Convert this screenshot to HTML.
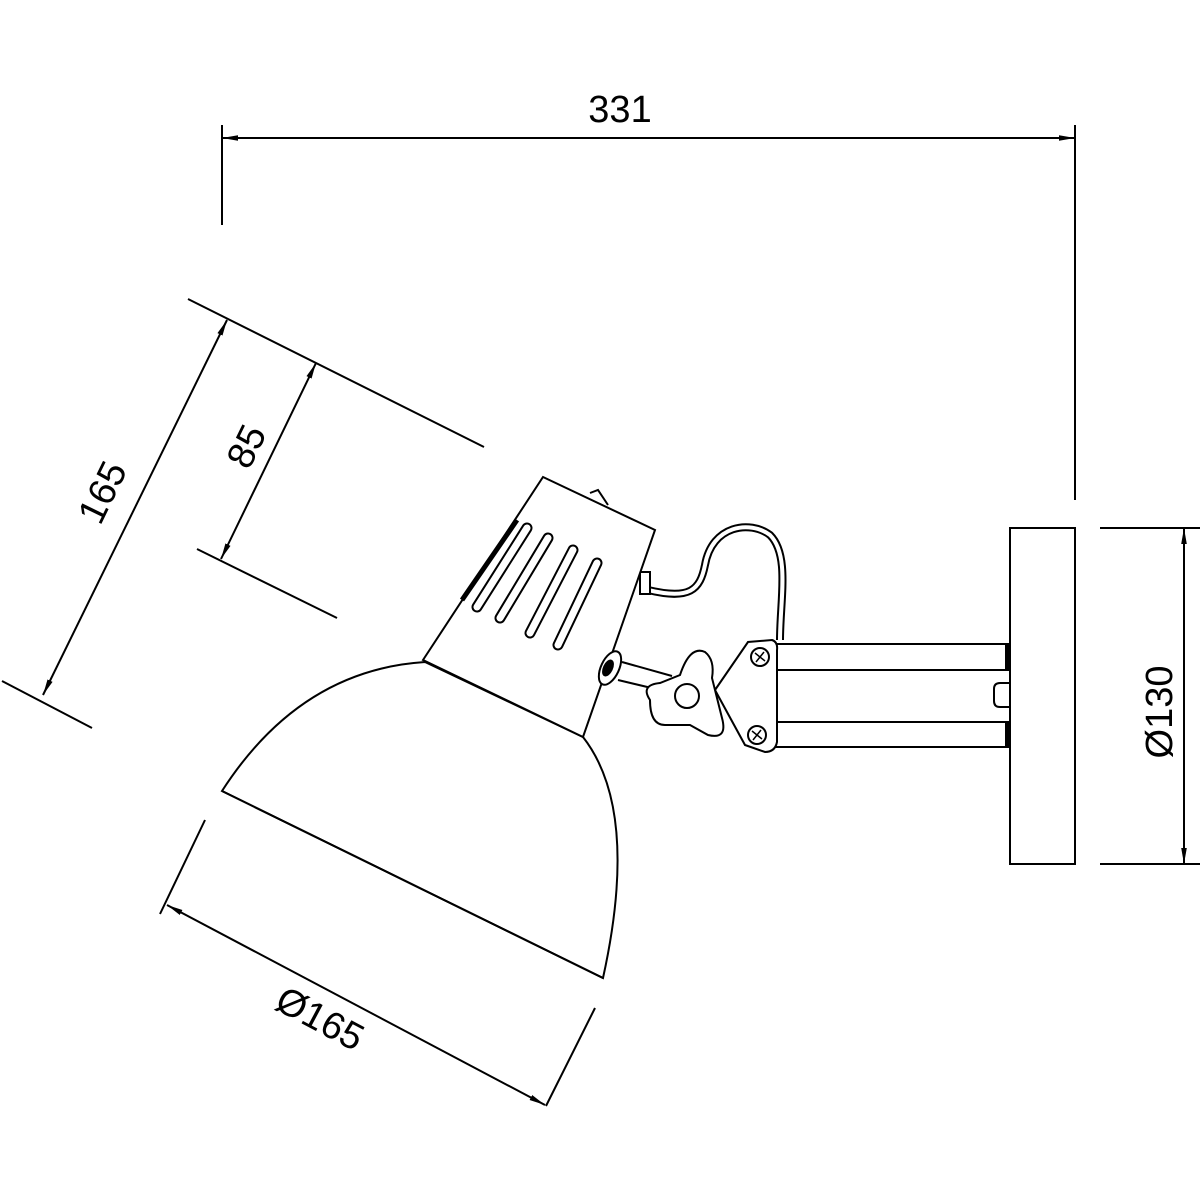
<!DOCTYPE html>
<html><head><meta charset="utf-8"><style>html,body{margin:0;padding:0;background:#fff}svg{display:block}</style></head>
<body>
<svg width="1200" height="1200" viewBox="0 0 1200 1200" xmlns="http://www.w3.org/2000/svg">
<defs>
<marker id="a" viewBox="0 0 10 10" refX="10" refY="5" markerWidth="16" markerHeight="7" orient="auto-start-reverse" markerUnits="userSpaceOnUse" preserveAspectRatio="none"><path d="M0,1 L10,5 L0,9 z" fill="#000"/></marker>
</defs>
<g fill="none" stroke="#000" stroke-width="2">
<!-- 331 -->
<line x1="222" y1="125" x2="222" y2="225"/>
<line x1="1075" y1="125" x2="1075" y2="500"/>
<line x1="222" y1="138" x2="1075" y2="138" marker-start="url(#a)" marker-end="url(#a)"/>
<!-- 130 -->
<line x1="1100" y1="528" x2="1200" y2="528"/>
<line x1="1100" y1="864" x2="1200" y2="864"/>
<line x1="1184" y1="528" x2="1184" y2="864" marker-start="url(#a)" marker-end="url(#a)"/>
<!-- left dims -->
<line x1="188" y1="299" x2="484" y2="447"/>
<line x1="197" y1="549" x2="337" y2="618"/>
<line x1="2" y1="681" x2="92" y2="728"/>
<line x1="227" y1="320" x2="43" y2="695" marker-start="url(#a)" marker-end="url(#a)"/>
<line x1="316" y1="363" x2="221" y2="559" marker-start="url(#a)" marker-end="url(#a)"/>
<!-- Ø165 -->
<line x1="205" y1="820" x2="160" y2="914"/>
<line x1="595" y1="1008" x2="546" y2="1106"/>
<line x1="167" y1="905" x2="545" y2="1105" marker-start="url(#a)" marker-end="url(#a)"/>

<!-- base -->
<rect x="1010" y="528" width="65" height="336"/>
<!-- arm -->
<line x1="775" y1="644" x2="1010" y2="644"/>
<line x1="775" y1="670" x2="1010" y2="670"/>
<line x1="775" y1="722" x2="1010" y2="722"/>
<line x1="775" y1="747" x2="1010" y2="747"/>
<rect x="1006" y="644" width="4" height="26" fill="#000"/>
<rect x="1006" y="722" width="4" height="25" fill="#000"/>
<path d="M1010,683 h-10 q-6,0 -6,6 v12 q0,6 6,6 h10"/>
<!-- cable -->
<path d="M648,590 C690,600 700,590 705,565 C712,525 750,520 770,535 C790,555 780,600 780,640" stroke-width="8"/>
<path d="M648,590 C690,600 700,590 705,565 C712,525 750,520 770,535 C790,555 780,600 780,640" stroke="#fff" stroke-width="4"/>
<rect x="640" y="572" width="10" height="22" fill="#fff"/>
<!-- shade -->
<path d="M222,791 Q300,670 425,662 L583,737 Q640,810 603,978 Z" fill="#fff"/>
<line x1="222" y1="791" x2="603" y2="978"/>
<!-- housing -->
<path d="M423,660 L543,477 L655,530 L583,737 Z" fill="#fff"/>
<path d="M590,493 L598,490 L608,505" />
<line x1="517" y1="520" x2="462" y2="600" stroke-width="5"/>
<g stroke-width="2">
<line x1="527" y1="528" x2="477" y2="607" stroke-width="11" stroke-linecap="round"/>
<line x1="548" y1="538" x2="500" y2="618" stroke-width="11" stroke-linecap="round"/>
<line x1="573" y1="550" x2="530" y2="633" stroke-width="11" stroke-linecap="round"/>
<line x1="597" y1="563" x2="558" y2="645" stroke-width="11" stroke-linecap="round"/>
<line x1="527" y1="528" x2="477" y2="607" stroke="#fff" stroke-width="7" stroke-linecap="round"/>
<line x1="548" y1="538" x2="500" y2="618" stroke="#fff" stroke-width="7" stroke-linecap="round"/>
<line x1="573" y1="550" x2="530" y2="633" stroke="#fff" stroke-width="7" stroke-linecap="round"/>
<line x1="597" y1="563" x2="558" y2="645" stroke="#fff" stroke-width="7" stroke-linecap="round"/>
</g>
<!-- swivel & rod -->
<ellipse cx="610" cy="668" rx="9" ry="18" transform="rotate(25 610 668)" fill="#fff"/>
<ellipse cx="608" cy="668" rx="4" ry="8" transform="rotate(25 608 668)" fill="#000"/>
<line x1="622" y1="662" x2="672" y2="676"/>
<line x1="618" y1="680" x2="660" y2="690"/>
<!-- plate -->
<path d="M715,690 L748,642 L772,640 Q778,642 777,650 L777,742 Q775,752 765,752 L745,745 Z" fill="#fff"/>
<!-- knob -->
<path d="M650,700 Q640,685 660,683 L680,675 Q690,645 705,652 Q715,660 712,678 L722,718 Q728,740 708,735 L690,725 L665,725 Q650,725 650,700 Z" fill="#fff"/>
<circle cx="687" cy="696" r="12"/>
<circle cx="760" cy="657" r="9"/>
<circle cx="757" cy="735" r="9"/>
<path d="M755,653 l10,8 M764,652 l-8,10" stroke-width="1.5"/>
<path d="M752,731 l10,8 M761,730 l-8,10" stroke-width="1.5"/>
</g>
<g font-family="Liberation Sans, sans-serif" font-size="38" fill="#000" text-anchor="middle">
<text x="620" y="122">331</text>
<text transform="translate(1172,712) rotate(-90)">Ø130</text>
<text transform="translate(114,498) rotate(-64)">165</text>
<text transform="translate(258,452) rotate(-64)">85</text>
<text transform="translate(314,1030) rotate(28)">Ø165</text>
</g>
</svg>
</body></html>
